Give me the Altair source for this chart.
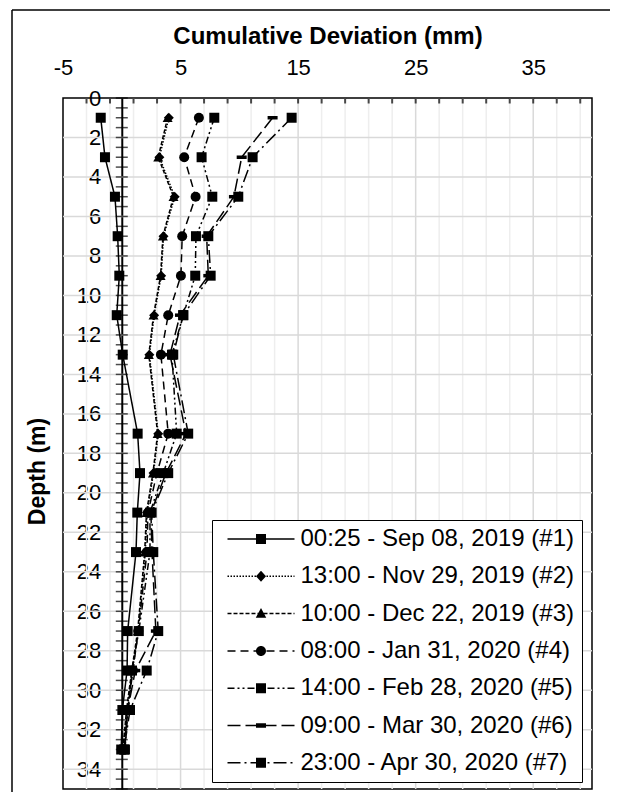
import altair as alt
import pandas as pd

# ---------------- data ----------------
depths = [1, 3, 5, 7, 9, 11, 13, 17, 19, 21, 23, 27, 29, 31, 33]
series_names = [
    "00:25 - Sep 08, 2019 (#1)",
    "13:00 - Nov 29, 2019 (#2)",
    "10:00 - Dec 22, 2019 (#3)",
    "08:00 - Jan 31, 2020 (#4)",
    "14:00 - Feb 28, 2020 (#5)",
    "09:00 - Mar 30, 2020 (#6)",
    "23:00 - Apr 30, 2020 (#7)",
]
s1 = [-1.79, -1.43, -0.58, -0.35, -0.21, -0.43, 0.08, 1.35, 1.55, 1.32, 1.21, 0.50, 0.45, 0.05, -0.05]
s2 = [4.00, 3.20, 4.50, 3.55, 3.35, 2.75, 2.35, 3.10, 2.70, 2.15, 2.00, 1.40, 0.90, 0.45, 0.10]
s3 = [3.90, 3.10, 4.40, 3.50, 3.30, 2.70, 2.30, 3.05, 2.65, 2.10, 1.95, 1.35, 0.85, 0.40, 0.10]
s4 = [6.56, 5.31, 6.28, 5.14, 5.03, 3.95, 3.33, 3.95, 2.99, 2.23, 2.14, 1.40, 0.95, 0.50, 0.20]
s5 = [7.87, 6.79, 7.70, 6.31, 6.25, 5.23, 4.27, 4.67, 3.53, 2.40, 2.40, 1.45, 0.87, 0.53, 0.27]
s6 = [12.83, 10.20, 9.54, 7.22, 7.36, 4.95, 4.10, 5.46, 3.76, 2.48, 2.57, 2.90, 1.15, 0.50, 0.20]
s7 = [14.45, 11.13, 9.91, 7.36, 7.56, 5.23, 4.38, 5.65, 3.95, 2.54, 2.68, 3.10, 2.12, 0.70, 0.19]
all_series = [s1, s2, s3, s4, s5, s6, s7]

x_label_values = [-5, 5, 15, 25, 35]
y_label_values = list(range(0, 35, 2))
x_major_grid = [5, 15, 25, 35]
x_minor_grid = [v for v in range(-3, 40, 2) if v not in x_major_grid]
y_grid = list(range(2, 35, 2))
x_top_ticks = list(range(-3, 40, 2))
y_cross_ticks = [i * 0.5 for i in range(0, 71)]

# ---------------- styles ----------------
dash_range = [[1, 0], [1.5, 1.5], [4, 2], [8, 5], [7, 3, 2, 3, 2, 3], [13, 5], [13, 4, 2, 4]]
marker_shapes = ["square", "diamond", "triangle-up", "circle", "square",
                 "M-1,-0.35H1V0.35H-1Z", "square"]
legend_markers = [
    "M4.7,-1H6.7V1H4.7Z",
    "M4.7,0L5.7,-1.1L6.7,0L5.7,1.1Z",
    "M5.7,-1.1L6.75,0.85H4.65Z",
    "M4.7,0A1,1,0,1,1,6.7,0A1,1,0,1,1,4.7,0Z",
    "M4.7,-1H6.7V1H4.7Z",
    "M4.7,-0.45H6.7V0.45H4.7Z",
    "M4.7,-1H6.7V1H4.7Z",
]

UNIT = 5.0  # legend symbol unit in px (sqrt(symbolSize)/2)


def legend_path(dash, marker, x0=-1.0, x1=12.4, half=0.15):
    """Legend key: dashed line drawn as filled segments, plus the marker."""
    parts = []
    if len(dash) == 2 and dash[1] == 0:
        parts.append(f"M{x0},{-half}H{x1}V{half}H{x0}Z")
    else:
        pos, i = x0, 0
        while pos < x1:
            on = dash[i % len(dash)] / UNIT
            off = dash[(i + 1) % len(dash)] / UNIT
            end = min(pos + on, x1)
            parts.append(f"M{pos:.3f},{-half}H{end:.3f}V{half}H{pos:.3f}Z")
            pos = end + off
            i += 2
    return "".join(parts) + marker


legend_shapes = [legend_path(d, m) for d, m in zip(dash_range, legend_markers)]

rows = []
for name, vals in zip(series_names, all_series):
    for d, v in zip(depths, vals):
        rows.append({"series": name, "depth": d, "value": v})
df = pd.DataFrame(rows)

FONT = "Liberation Sans"
W, H = 529, 691
TOTAL_W, TOTAL_H = 610, 792
XMIN, XMAX = -5, 40
xs = alt.Scale(domain=[XMIN, XMAX], nice=False, zero=False)
ys = alt.Scale(domain=[0, 35], reverse=True, nice=False, zero=False)
x0_px = W * (0 - XMIN) / (XMAX - XMIN)

X_AX = alt.Axis(
    orient="top", values=x_label_values, labelFlush=False, domain=False,
    ticks=False, grid=False, labelFontSize=22, labelFont=FONT, labelColor="black",
    labelPadding=19, labelExpr="datum.value",
    title="Cumulative Deviation (mm)", titleFont=FONT,
    titleFontSize=24, titleFontWeight="bold", titleColor="black", titlePadding=8)
Y_AX = alt.Axis(
    orient="left", offset=-x0_px, values=y_label_values, domain=True,
    domainColor="black", domainWidth=2, ticks=False, grid=False,
    labelFontSize=22, labelFont=FONT, labelColor="black", labelPadding=21,
    title="Depth (m)", titleFont=FONT, titleFontSize=23, titleFontWeight="bold",
    titleColor="black", titleAngle=270, titleBaseline="middle",
    titleX=-26 - x0_px, titleY=373)


def X(f):
    return alt.X(f, scale=xs, axis=X_AX)


def Y(f):
    return alt.Y(f, scale=ys, axis=Y_AX)


# ---------------- layers ----------------
one = pd.DataFrame({"k": [0]})
frame_top = alt.Chart(one).mark_rule(color="black", strokeWidth=1.5).encode(
    x=alt.value(-51), x2=alt.value(W + 300), y=alt.value(-88))
frame_left = alt.Chart(one).mark_rule(color="black", strokeWidth=1.5).encode(
    x=alt.value(-51), y=alt.value(-88), y2=alt.value(H + 300))

grid_minor = alt.Chart(pd.DataFrame({"g": x_minor_grid})).mark_rule(
    color="#eeeeee", strokeWidth=1.5).encode(x=X("g:Q"))
grid_major = alt.Chart(pd.DataFrame({"g": x_major_grid})).mark_rule(
    color="#d9d9d9", strokeWidth=1.5).encode(x=X("g:Q"))
grid_h = alt.Chart(pd.DataFrame({"g": y_grid})).mark_rule(
    color="#d9d9d9", strokeWidth=1.5).encode(y=Y("g:Q"))

top_ticks = alt.Chart(pd.DataFrame({"t": x_top_ticks, "z": [0] * len(x_top_ticks)})).mark_tick(
    orient="vertical", size=11, thickness=2, color="black", clip=True
).encode(x=X("t:Q"), y=Y("z:Q"))

cross_ticks = alt.Chart(pd.DataFrame({"t": y_cross_ticks, "z": [0] * len(y_cross_ticks)})).mark_tick(
    orient="horizontal", size=12, thickness=1.5, color="black"
).encode(y=Y("t:Q"), x=X("z:Q"))

line_layers = []
point_layers = []
for name, shp, dash in zip(series_names, marker_shapes, dash_range):
    sub = df[df["series"] == name]
    line_layers.append(
        alt.Chart(sub).mark_line(color="black", strokeWidth=1.5, strokeDash=dash).encode(
            x=X("value:Q"), y=Y("depth:Q"), order=alt.Order("depth:Q"))
    )
    point_layers.append(
        alt.Chart(sub).mark_point(filled=True, color="black", size=100, opacity=1, shape=shp).encode(
            x=X("value:Q"), y=Y("depth:Q"))
    )

leg = alt.Legend(
    title=None, orient="none", legendX=149, legendY=422, padding=7,
    rowPadding=13.3, symbolSize=100, symbolOffset=1.5, labelOffset=56,
    labelFont=FONT, labelFontSize=24, labelColor="black", labelLimit=500,
    symbolOpacity=1, symbolFillColor="black", symbolStrokeWidth=0,
    strokeColor="black", fillColor="white",
)

legend_layer = alt.Chart(df).mark_point(filled=True, color="black").encode(
    x=X("value:Q"),
    y=Y("depth:Q"),
    opacity=alt.value(0),
    shape=alt.Shape("series:N", scale=alt.Scale(domain=series_names, range=legend_shapes), legend=leg),
)

chart = alt.layer(
    frame_top, frame_left, grid_minor, grid_major, grid_h, top_ticks, cross_ticks,
    *line_layers, *point_layers, legend_layer
).properties(
    width=W, height=H,
    autosize=alt.AutoSizeParams(type="none"),
    padding={"left": 63, "top": 98, "right": TOTAL_W - 63 - W, "bottom": TOTAL_H - 98 - H},
).configure_view(stroke="black", strokeWidth=1.5)

chart.save("out.html", embed_options={"renderer": "svg", "actions": False})
